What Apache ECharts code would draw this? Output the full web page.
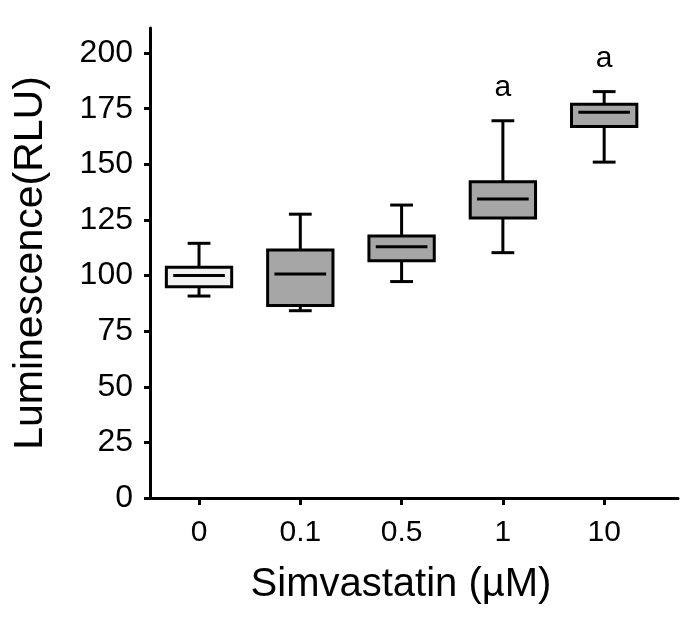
<!DOCTYPE html>
<html>
<head>
<meta charset="utf-8">
<script src="https://cdn.jsdelivr.net/npm/echarts@6/dist/echarts.min.js"></script>
<style>
html,body{margin:0;padding:0;background:#fff;}
#c{width:692px;height:620px;}
</style>
</head>
<body>
<div id="c"></div>
<script>
// ---- data ----
const categories = ['0', '0.1', '0.5', '1', '10'];
const whiskerMin = [90.8, 84.2, 97.3, 110.3, 151.0];
const q1         = [95.0, 86.5, 106.7, 125.9, 167.0];
const median     = [100.0, 100.7, 113.0, 134.4, 173.4];
const q3         = [103.7, 111.5, 117.8, 142.2, 177.0];
const whiskerMax = [114.5, 127.6, 131.7, 169.6, 182.7];
const sigLabels  = ['', '', '', 'a', 'a'];
const yTicks     = [0, 25, 50, 75, 100, 125, 150, 175, 200];

// ---- styles ----
const FONT = '"Liberation Sans", Arial, Helvetica, sans-serif';
const controlFill = '#f2f2f2';
const treatFill = '#a6a6a6';

const xTickIdx = categories.map((_, i) => i);
const data = categories.map((c, i) => [i, whiskerMin[i], q1[i], median[i], q3[i], whiskerMax[i]]);

function renderItem(params, api) {
  const i = api.value(0);
  const x = api.coord([i, 0])[0];
  const band = api.size([1, 0])[0];
  const yy = k => api.coord([i, api.value(k)])[1];
  const yMin = yy(1), yQ1 = yy(2), yMed = yy(3), yQ3 = yy(4), yMax = yy(5);
  const bw = band * 0.645, cw = band * 0.225, mw = band * 0.51;
  const ls = { stroke: '#000', lineWidth: 3 };
  const children = [
    { type: 'line', shape: { x1: x, y1: yMax, x2: x, y2: yQ3 }, style: ls },
    { type: 'line', shape: { x1: x, y1: yQ1, x2: x, y2: yMin }, style: ls },
    { type: 'line', shape: { x1: x - cw / 2, y1: yMax, x2: x + cw / 2, y2: yMax }, style: ls },
    { type: 'line', shape: { x1: x - cw / 2, y1: yMin, x2: x + cw / 2, y2: yMin }, style: ls },
    { type: 'rect', shape: { x: x - bw / 2, y: yQ3, width: bw, height: yQ1 - yQ3 },
      style: { fill: i === 0 ? controlFill : treatFill, stroke: '#000', lineWidth: 3 } },
    { type: 'line', shape: { x1: x - mw / 2, y1: yMed, x2: x + mw / 2, y2: yMed }, style: ls }
  ];
  if (sigLabels[i]) {
    children.push({
      type: 'text', x: x, y: yMax - 33,
      style: { text: sigLabels[i], fill: '#000', fontSize: 30, fontFamily: FONT, align: 'center', verticalAlign: 'middle' }
    });
  }
  return { type: 'group', children };
}

const chart = echarts.init(document.getElementById('c'));
chart.setOption({
  animation: false,
  backgroundColor: '#fff',
  grid: { left: 150, right: 14, top: 28, bottom: 122, outerBoundsMode: 'none' },
  xAxis: {
    type: 'value', min: -0.484, max: 4.729,
    name: 'Simvastatin (µM)', nameLocation: 'middle', nameGap: 67,
    nameTextStyle: { fontFamily: FONT, fontSize: 40, color: '#000', padding: [0, 26, 0, 0] },
    axisLine: { show: true, onZero: false, lineStyle: { color: '#000', width: 3 } },
    axisTick: { show: true, length: 7, customValues: xTickIdx, lineStyle: { color: '#000', width: 3 } },
    axisLabel: { customValues: xTickIdx, formatter: v => (categories[v] !== undefined ? categories[v] : ''),
                 margin: 20, fontSize: 30, fontFamily: FONT, color: '#000' },
    splitLine: { show: false }
  },
  yAxis: {
    type: 'value', min: 0, max: 211.3,
    name: 'Luminescence(RLU)', nameLocation: 'middle', nameGap: 99,
    nameTextStyle: { fontFamily: FONT, fontSize: 41, color: '#000' },
    axisLine: { show: true, onZero: false, lineStyle: { color: '#000', width: 3 } },
    axisTick: { show: true, length: 6, customValues: yTicks, lineStyle: { color: '#000', width: 3 } },
    axisLabel: { customValues: yTicks, margin: 17, fontSize: 32, fontFamily: FONT, color: '#000' },
    splitLine: { show: false }
  },
  series: [{
    type: 'custom',
    renderItem: renderItem,
    data: data,
    encode: { x: 0, y: [1, 2, 3, 4, 5] },
    clip: false
  }]
});
</script>
</body>
</html>
